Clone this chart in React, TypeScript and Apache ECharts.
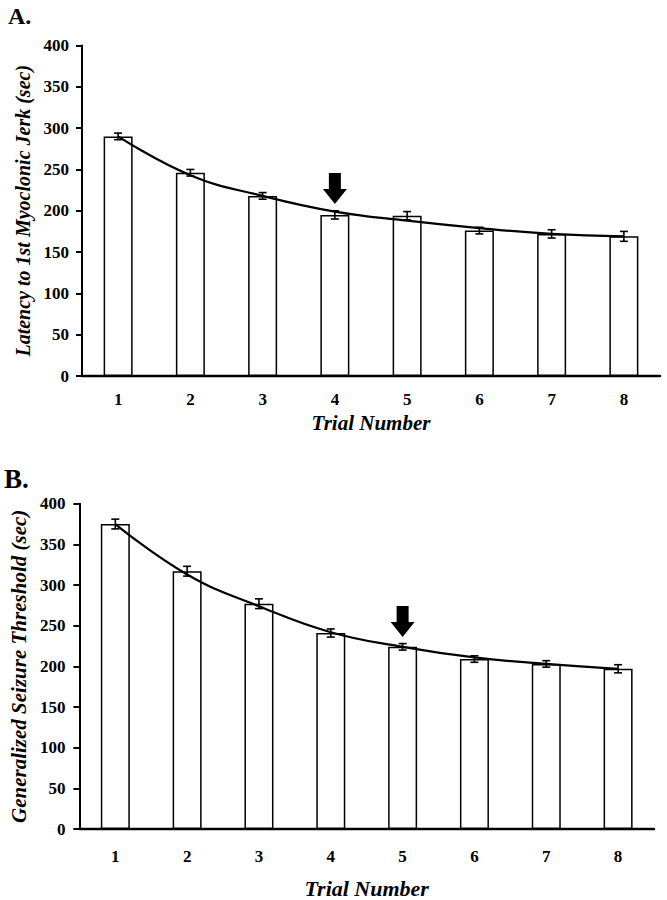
import React, { useEffect, useRef } from "react";
import * as echarts from "echarts";

const trials = ["1", "2", "3", "4", "5", "6", "7", "8"];
const yTickMin = 0;
const yTickMax = 400;
const yTickStep = 50;

// Panel A: latency to 1st myoclonic jerk (sec)
const latencyMeans = [290, 246, 218, 195, 194, 176, 172, 169];
const latencyErrors = [4, 4, 4, 5, 5, 4, 5, 6];
const latencyFit = [290, 243, 218, 199, 188, 179, 172, 169];
const latencyArrow = ["4", 227];

// Panel B: generalized seizure threshold (sec)
const thresholdMeans = [375, 317, 277, 241, 224, 209, 203, 197];
const thresholdErrors = [6, 6, 6, 5, 4, 4, 4, 5];
const thresholdFit = [375, 313, 274, 242, 224, 211, 203, 197];
const thresholdArrow = ["5", 255];

const FONT = "'Liberation Serif', 'Times New Roman', serif";
const ARROW = "path://M6,0 L18,0 L18,16 L24,16 L12,31 L0,16 L6,16 Z";

function errorRender(params: any, api: any) {
  const idx = api.value(0);
  const mean = api.value(1);
  const err = api.value(2);
  const top = api.coord([idx, mean + err]);
  const bot = api.coord([idx, mean - err]);
  const hw = 4;
  const st = { stroke: "#000", lineWidth: 1.6 };
  return {
    type: "group",
    children: [
      { type: "line", shape: { x1: top[0], y1: top[1], x2: bot[0], y2: bot[1] }, style: st },
      { type: "line", shape: { x1: top[0] - hw, y1: top[1], x2: top[0] + hw, y2: top[1] }, style: st },
      { type: "line", shape: { x1: bot[0] - hw, y1: bot[1], x2: bot[0] + hw, y2: bot[1] }, style: st },
    ],
  };
}

function panelSeries(gi: number, means: number[], errs: number[], fit: number[], arrow: any[]) {
  return [
    {
      type: "bar",
      xAxisIndex: gi,
      yAxisIndex: gi,
      data: means,
      barWidth: 29,
      itemStyle: { color: "#fff", borderColor: "#000", borderWidth: 1.5 },
      z: 2,
    },
    {
      type: "line",
      xAxisIndex: gi,
      yAxisIndex: gi,
      data: fit,
      smooth: 0.45,
      showSymbol: false,
      symbol: "none",
      lineStyle: { color: "#000", width: 2.2 },
      z: 3,
    },
    {
      type: "custom",
      xAxisIndex: gi,
      yAxisIndex: gi,
      renderItem: errorRender,
      data: means.map((m, i) => [i, m, errs[i]]),
      z: 4,
    },
    {
      type: "scatter",
      xAxisIndex: gi,
      yAxisIndex: gi,
      data: [arrow],
      symbol: ARROW,
      symbolSize: [24, 31],
      itemStyle: { color: "#000", opacity: 1 },
      z: 5,
    },
  ];
}

function xAxisOf(gi: number, labelMargin: number, nameGap: number, nameSize: number) {
  return {
    type: "category",
    gridIndex: gi,
    data: trials,
    boundaryGap: true,
    axisLine: { lineStyle: { color: "#000", width: 2.4 } },
    axisTick: { show: false },
    axisLabel: { color: "#000", fontFamily: FONT, fontWeight: "bold", fontSize: 17, margin: labelMargin },
    name: "Trial Number",
    nameLocation: "middle",
    nameGap,
    nameTextStyle: { color: "#000", fontFamily: FONT, fontWeight: "bold", fontStyle: "italic", fontSize: nameSize },
  };
}

function yAxisOf(gi: number, name: string, nameGap: number, nameSize: number, labelMargin: number) {
  return {
    type: "value",
    gridIndex: gi,
    min: yTickMin,
    max: yTickMax,
    interval: yTickStep,
    axisLine: { show: true, lineStyle: { color: "#000", width: 2 } },
    axisTick: { show: true, length: 6, lineStyle: { color: "#000", width: 2 } },
    splitLine: { show: false },
    axisLabel: { color: "#000", fontFamily: FONT, fontWeight: "bold", fontSize: 17, margin: labelMargin },
    name,
    nameLocation: "middle",
    nameRotate: 90,
    nameGap,
    nameTextStyle: { color: "#000", fontFamily: FONT, fontWeight: "bold", fontStyle: "italic", fontSize: nameSize },
  };
}

export default function App() {
  const ref = useRef<HTMLDivElement>(null);
  useEffect(() => {
    if (!ref.current) return;
    const chart = echarts.init(ref.current, undefined, { renderer: "svg" });
    chart.setOption({
      animation: false,
      backgroundColor: "#fff",
      grid: [
        { left: 82, top: 45.5, width: 578, height: 330.5 },
        { left: 77, top: 503.7, width: 577, height: 325.3 },
      ],
      xAxis: [xAxisOf(0, 15, 36, 21), xAxisOf(1, 19, 48, 22)],
      yAxis: [
        yAxisOf(0, "Latency to 1st Myoclonic Jerk (sec)", 40, 20, 13),
        yAxisOf(1, "Generalized Seizure Threshold (sec)", 50, 21, 14),
      ],
      graphic: [
        {
          type: "text",
          style: { text: "A.", x: 8, y: 16, fill: "#000", font: `bold 24px ${FONT}`, verticalAlign: "middle" },
        },
        {
          type: "text",
          style: { text: "B.", x: 4, y: 479, fill: "#000", font: `bold 27px ${FONT}`, verticalAlign: "middle" },
        },
      ],
      series: [
        ...panelSeries(0, latencyMeans, latencyErrors, latencyFit, latencyArrow),
        ...panelSeries(1, thresholdMeans, thresholdErrors, thresholdFit, thresholdArrow),
      ],
    });
    return () => chart.dispose();
  }, []);
  return (
    <div
      ref={ref}
      style={{ position: "absolute", left: 0, top: 0, width: 667, height: 900 }}
    />
  );
}
